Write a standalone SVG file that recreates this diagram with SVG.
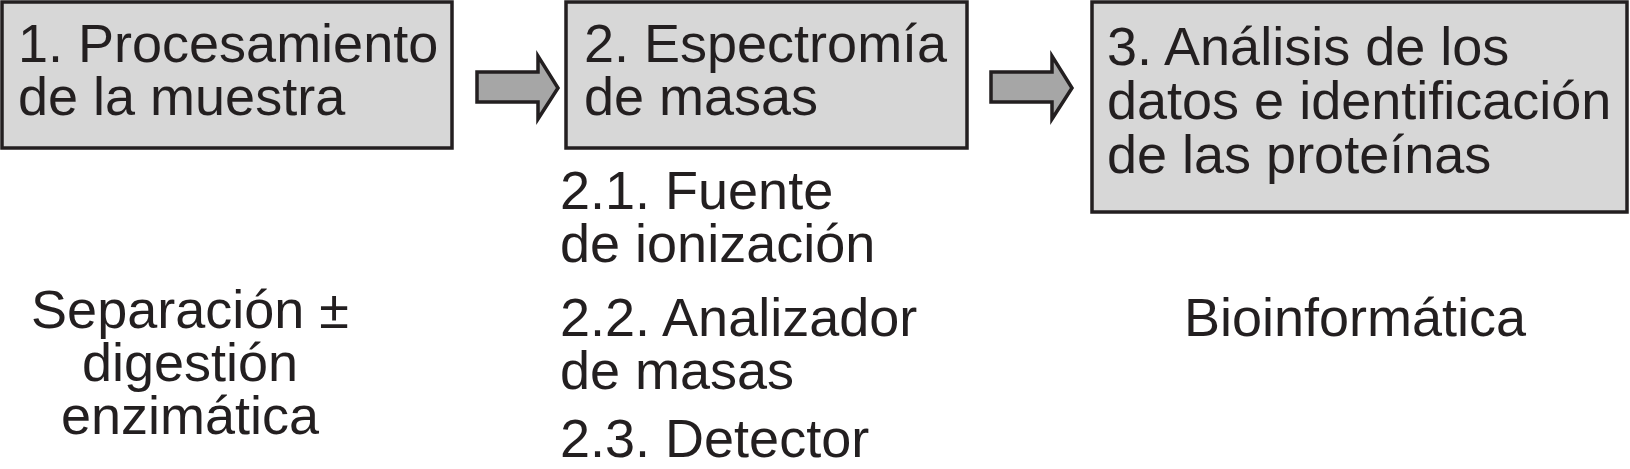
<svg xmlns="http://www.w3.org/2000/svg" width="1630" height="469" viewBox="0 0 1630 469">
<style>
.box{fill:#d7d7d7;stroke:#231f20;stroke-width:3.5}
.arr{fill:#a6a6a6;stroke:#231f20;stroke-width:3.5;stroke-linejoin:miter}
text{font-family:"Liberation Sans",Arial,sans-serif;font-size:54px;fill:#231f20}
.c{text-anchor:middle}
</style>
<rect width="1630" height="469" fill="#ffffff"/>
<g id="node1">
<rect class="box" x="2" y="2" width="450" height="146"/>
<text x="18" y="62">1. Procesamiento</text>
<text x="18" y="115">de la muestra</text>
</g>
<g id="node2">
<rect class="box" x="566" y="2" width="401" height="146"/>
<text x="584" y="62">2. Espectromía</text>
<text x="584" y="115">de masas</text>
</g>
<g id="node3">
<rect class="box" x="1092" y="2" width="535" height="210"/>
<text x="1107" y="65">3. Análisis de los</text>
<text x="1107" y="119">datos e identificación</text>
<text x="1107" y="173">de las proteínas</text>
</g>
<g id="note1">
<text class="c" x="190" y="328">Separación ±</text>
<text class="c" x="190" y="381">digestión</text>
<text class="c" x="190" y="434">enzimática</text>
</g>
<g id="note2">
<text x="560" y="209">2.1. Fuente</text>
<text x="560" y="262">de ionización</text>
<text x="560" y="336">2.2. Analizador</text>
<text x="560" y="389">de masas</text>
<text x="560" y="457">2.3. Detector</text>
</g>
<g id="note3">
<text class="c" x="1355" y="336">Bioinformática</text>
</g>
<g id="connectors">
<polygon class="arr" points="477,72 538,72 538,56 558,88 538,119 538,102 477,102"/>
<polygon class="arr" points="991,72 1052,72 1052,56 1072,88 1052,119 1052,102 991,102"/>
</g>
</svg>
